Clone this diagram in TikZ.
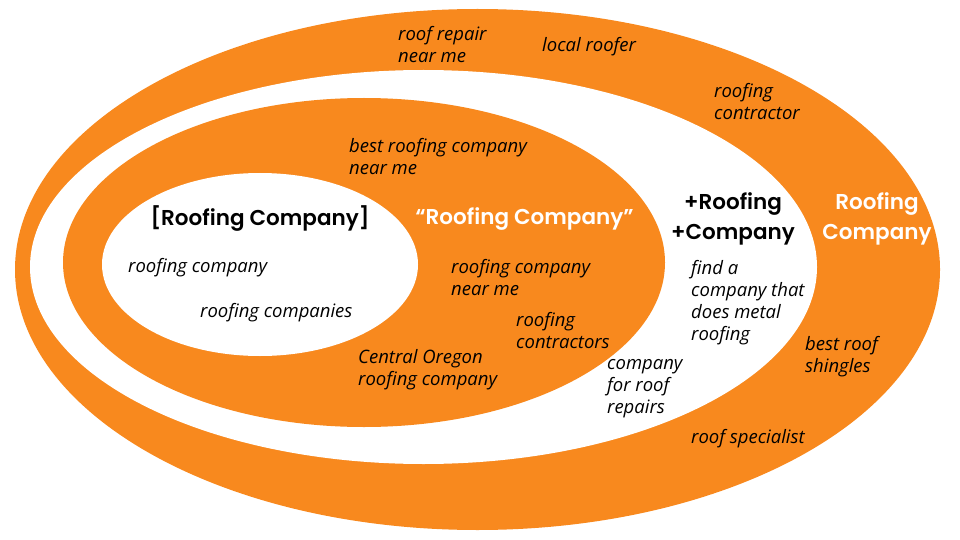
\documentclass[tikz,border=0pt]{standalone}
\usepackage{fontspec}
\setmainfont{Open Sans}
\newfontfamily\headfont{Poppins}[UprightFont=* SemiBold]
\definecolor{roofOrange}{RGB}{248,137,30}

\begin{document}
\begin{tikzpicture}[x=1pt, y=-1pt,
    kw/.style={anchor=west, align=left, inner sep=0pt, yshift=-2pt, font=\itshape\fontsize{18.5}{22}\selectfont},
    head/.style={align=center, inner sep=0pt, font=\headfont\fontsize{21.5}{30}\selectfont}]
  \useasboundingbox (0,0) rectangle (960,540);

  % Ellipses
  \fill[roofOrange] (477.5,269.5) ellipse [x radius=462.5, y radius=260.5];
  \fill[white] (423.5,267) ellipse [x radius=393.5, y radius=197];
  \fill[roofOrange] (364,262.5) ellipse [x radius=301, y radius=164.5];
  \fill[white] (260,264.5) ellipse [x radius=158, y radius=91.5];

  % Titles
  \node[head] (exact) at (260,219) {[Roofing Company]};
  \node[head, text=white] (phrase) at (524.5,219) {“Roofing Company”};
  \node[head] (modified) at (733,219) {+Roofing\\+Company};
  \node[head, text=white] (broad) at (877,219) {Roofing\\Company};

  % Exact match
  \node[kw] (exa) at (128,266) {roofing company};
  \node[kw] (exb) at (200,311) {roofing companies};

  % Phrase match
  \node[kw] (pha) at (349,155) {best roofing company\\near me};
  \node[kw] (phb) at (451,276) {roofing company\\near me};
  \node[kw] (phc) at (516,329) {roofing\\contractors};
  \node[kw] (phd) at (358,368) {Central Oregon\\roofing company};

  % Modified broad
  \node[kw] (moa) at (691,301) {find a\\company that\\does metal\\roofing};
  \node[kw] (mob) at (607,387) {company\\for roof\\repairs};

  % Broad match
  \node[kw] (bra) at (398,43) {roof repair\\near me};
  \node[kw] (brb) at (542,45) {local roofer};
  \node[kw] (brc) at (714,100) {roofing\\contractor};
  \node[kw] (brd) at (805,355) {best roof\\shingles};
  \node[kw] (bre) at (691,437) {roof specialist};
\end{tikzpicture}
\end{document}
